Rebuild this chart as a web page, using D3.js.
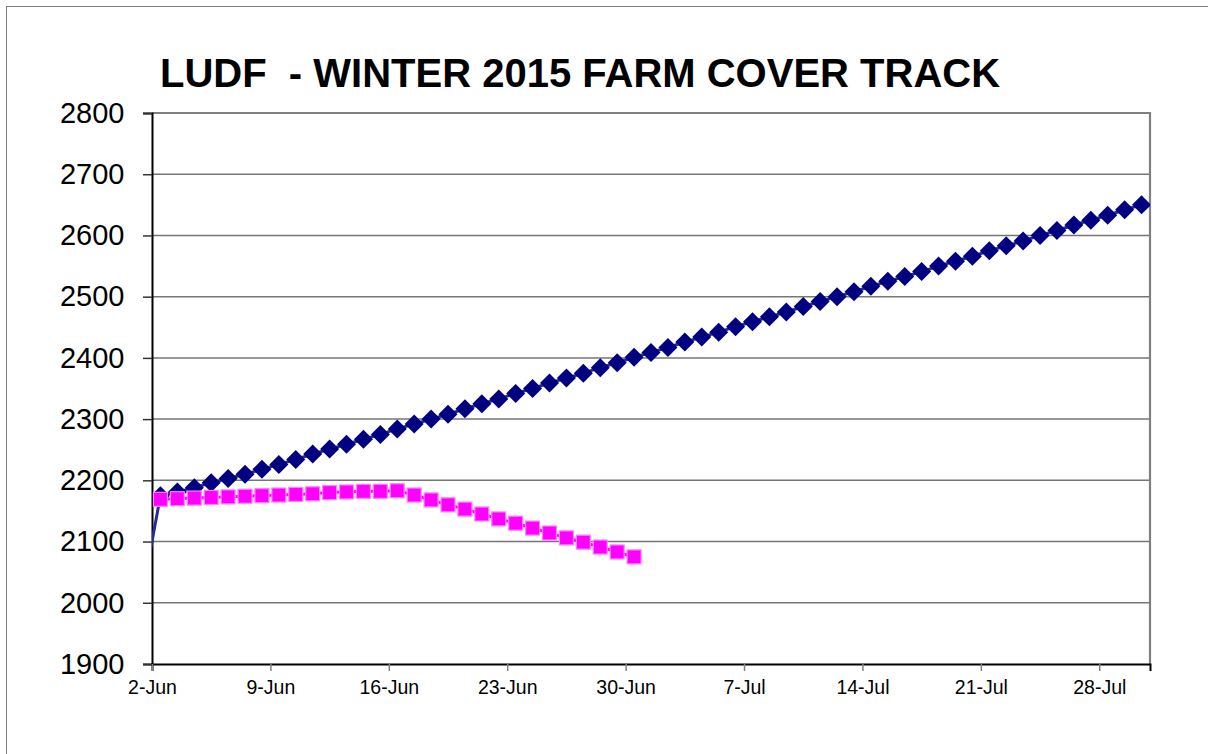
<html>
<head>
    <meta charset="UTF-8">
    <title>LUDF - Winter 2015 Farm Cover Track</title>
    <script src="https://d3js.org/d3.v7.min.js"></script>
    <style>
        body { margin: 0; background: #fff; }
        svg { display: block; font-family: "Liberation Sans", Arial, sans-serif; }
    </style>
</head>
<body>
    <svg width="1208" height="754"></svg>
    <script>
        // budget cover (navy diamonds) - first value is 1-Jun, sits just left of the axis and gets clipped
        var budgetStart = '2015-06-01';
        var budgetCover = [2025,
            2175, 2181, 2188, 2196, 2203, 2210, 2218, 2226, 2234, 2243,
            2251, 2259, 2267, 2275, 2284, 2292, 2300, 2308, 2317, 2325,
            2333, 2342, 2350, 2359, 2367, 2375, 2384, 2392, 2401, 2409,
            2417, 2426, 2434, 2442, 2451, 2459, 2467, 2475, 2484, 2492,
            2500, 2508, 2517, 2525, 2533, 2541, 2550, 2558, 2566, 2575,
            2583, 2591, 2600, 2608, 2617, 2625, 2633, 2642, 2650];

        // actual cover (magenta squares) from 2-Jun
        var actualStart = '2015-06-02';
        var actualCover = [2169, 2170, 2171, 2172, 2173, 2174, 2175, 2176, 2177, 2178,
            2180, 2181, 2182, 2182, 2183, 2176, 2168, 2160, 2153, 2145,
            2137, 2130, 2122, 2114, 2106, 2099, 2091, 2083, 2075];

        var xTickLabels = ['2-Jun', '9-Jun', '16-Jun', '23-Jun', '30-Jun', '7-Jul', '14-Jul', '21-Jul', '28-Jul'];
        var yTicks = [1900, 2000, 2100, 2200, 2300, 2400, 2500, 2600, 2700, 2800];
        var xDomain = ['2015-06-02', '2015-07-31'];

        var parseDay = d3.utcParse('%Y-%m-%d');
        var tickFmt = d3.utcFormat('%-d-%b');

        var svg = d3.select('svg');
        var margin = { top: 113, right: 58, bottom: 90, left: 152 },
            width = +svg.attr('width') - margin.left - margin.right,
            height = +svg.attr('height') - margin.top - margin.bottom;

        // outer chart frame (only top / left edges fall inside the picture)
        svg.append('rect')
            .attr('x', 6.5).attr('y', 6.5)
            .attr('width', 1220).attr('height', 780)
            .attr('fill', 'none').attr('stroke', '#808080').attr('stroke-width', 1);

        svg.append('text')
            .attr('x', 160).attr('y', 87)
            .attr('font-size', 40).attr('font-weight', 'bold')
            .attr('fill', '#000')
            .attr('xml:space', 'preserve')
            .style('white-space', 'pre')
            .text('LUDF  - WINTER 2015 FARM COVER TRACK');

        var g = svg.append('g').attr('transform', 'translate(' + margin.left + ',' + margin.top + ')');

        var x = d3.scaleUtc().domain(xDomain.map(parseDay)).range([0, width]);
        var y = d3.scaleLinear().domain([yTicks[0], yTicks[yTicks.length - 1]]).range([height, 0]);

        // points sit in the middle of their day, like an Excel category axis
        var mid = function (d) { return x(d3.utcHour.offset(d, 12)); };

        var budget = budgetCover.map(function (v, i) {
            return { date: d3.utcDay.offset(parseDay(budgetStart), i), value: v };
        });
        var actual = actualCover.map(function (v, i) {
            return { date: d3.utcDay.offset(parseDay(actualStart), i), value: v };
        });

        g.append('clipPath').attr('id', 'plot-clip')
            .append('rect').attr('width', width).attr('height', height);

        // gridlines
        g.append('g').selectAll('line')
            .data(yTicks.slice(1))
            .join('line')
            .attr('x1', 0).attr('x2', width)
            .attr('y1', function (d) { return y(d); })
            .attr('y2', function (d) { return y(d); })
            .attr('stroke', '#767676').attr('stroke-width', 1.5);

        // plot frame: grey top and right
        g.append('path')
            .attr('d', 'M0,' + y(2800) + 'H' + width + 'V' + height)
            .attr('fill', 'none').attr('stroke', '#808080').attr('stroke-width', 2.2);

        // axes
        var yAxis = g.append('g')
            .call(d3.axisLeft(y).tickValues(yTicks).tickSize(9).tickPadding(18.5).tickFormat(d3.format('d')));
        yAxis.select('.domain').attr('stroke', '#000').attr('stroke-width', 2);
        yAxis.selectAll('.tick line').attr('stroke', '#333').attr('stroke-width', 1.5);
        yAxis.selectAll('text').attr('font-size', 29).attr('fill', '#000')
            .attr('font-family', '"Liberation Sans", Arial, sans-serif');

        var xTickDates = xTickLabels.map(function (s) {
            return parseDay('2015-' + d3.utcFormat('%m-%d')(d3.utcParse('%-d-%b')(s)));
        });
        var xAxis = g.append('g')
            .attr('transform', 'translate(0,' + height + ')')
            .call(d3.axisBottom(x).tickValues(xTickDates).tickSize(7).tickPadding(9.5)
                .tickFormat(function (d) { return tickFmt(d); }));
        xAxis.select('.domain').attr('stroke', '#000').attr('stroke-width', 2);
        xAxis.selectAll('.tick line').attr('stroke', '#808080').attr('stroke-width', 1.5);
        xAxis.selectAll('text').attr('font-size', 19.5).attr('fill', '#000')
            .attr('font-family', '"Liberation Sans", Arial, sans-serif');

        var line = d3.line()
            .x(function (d) { return mid(d.date); })
            .y(function (d) { return y(d.value); });

        var series = g.append('g').attr('clip-path', 'url(#plot-clip)');

        // budget line + diamonds
        series.append('path')
            .datum(budget)
            .attr('fill', 'none')
            .attr('stroke', '#2a2a96')
            .attr('stroke-width', 3)
            .attr('stroke-linejoin', 'round')
            .attr('d', line);
        var dh = 9.5;
        series.append('g').selectAll('path')
            .data(budget.slice(1))
            .join('path')
            .attr('transform', function (d) { return 'translate(' + mid(d.date) + ',' + y(d.value) + ')'; })
            .attr('d', 'M0,' + (-dh) + 'L' + dh + ',0L0,' + dh + 'L' + (-dh) + ',0Z')
            .attr('fill', '#000080');

        // actual line + squares
        series.append('path')
            .datum(actual)
            .attr('fill', 'none')
            .attr('stroke', '#ff00ff')
            .attr('stroke-width', 3)
            .attr('d', line);
        var sq = 14;
        series.append('g').selectAll('rect')
            .data(actual)
            .join('rect')
            .attr('x', function (d) { return mid(d.date) - sq / 2; })
            .attr('y', function (d) { return y(d.value) - sq / 2; })
            .attr('width', sq).attr('height', sq)
            .attr('fill', '#ff00ff')
            .attr('stroke', '#ff80ff').attr('stroke-width', 1.2);
    </script>
</body>
</html>
